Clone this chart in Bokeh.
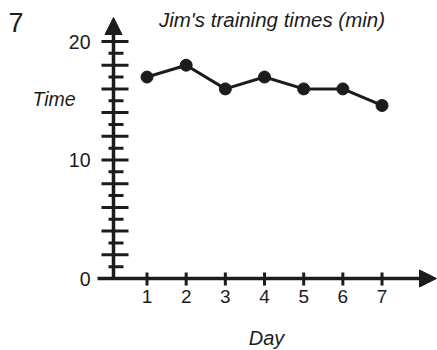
from bokeh.plotting import figure
from bokeh.models import Range1d, Label, Arrow, NormalHead
from bokeh.embed import file_html
from bokeh.resources import INLINE

# data
days = [1, 2, 3, 4, 5, 6, 7]
times = [17, 18, 16, 17, 16, 16, 14.6]
x_ticks = [1, 2, 3, 4, 5, 6, 7]
x_tick_labels = ["1", "2", "3", "4", "5", "6", "7"]
y_major = [0, 2, 4, 6, 8, 10, 12, 14, 16, 18, 20]
y_minor = [1, 3, 5, 7, 9, 11, 13, 15, 17, 19]
y_label_vals = [0, 10, 20]
y_label_text = ["0", "10", "20"]
title_text = "Jim's training times (min)"

INK = "#1c1c1c"
FONT = "Liberation Sans"

W, H = 437, 350
# scale: pixels per unit and pixel position of the origin
PX_X, ORG_X = 39.17, 107.33
PX_Y, ORG_Y = 11.85, 278.0


def dx(px):
    return (px - ORG_X) / PX_X


def dy(py):
    return (ORG_Y - py) / PX_Y


AX = dx(113)  # where the vertical axis crosses

p = figure(width=W, height=H, output_backend="svg", toolbar_location=None,
           x_range=Range1d(dx(0), dx(W)), y_range=Range1d(dy(H), dy(0)),
           min_border=0)
p.outline_line_color = None
p.axis.visible = False
p.grid.visible = False
p.background_fill_color = "white"
p.border_fill_color = "white"

# axis lines with arrow heads
p.add_layout(Arrow(x_start=AX, y_start=0, x_end=AX, y_end=dy(17), line_width=3.5,
                   line_color=INK,
                   end=NormalHead(size=17, fill_color=INK, line_color=INK)))
p.add_layout(Arrow(x_start=dx(97), y_start=0, x_end=dx(436), y_end=0, line_width=3.5,
                   line_color=INK,
                   end=NormalHead(size=17, fill_color=INK, line_color=INK)))

# y ticks
p.segment(x0=[AX - 12 / PX_X] * len(y_major), y0=y_major,
          x1=[AX + 15 / PX_X] * len(y_major), y1=y_major,
          line_width=3, line_color=INK)
p.segment(x0=[AX - 5 / PX_X] * len(y_minor), y0=y_minor,
          x1=[AX + 10 / PX_X] * len(y_minor), y1=y_minor,
          line_width=3, line_color=INK)
p.text(x=[AX - 23 / PX_X] * len(y_label_vals), y=y_label_vals, text=y_label_text,
       text_align="right", text_baseline="middle", text_font={"value": FONT},
       text_font_size="19.5px", text_color=INK)

# x ticks
p.segment(x0=x_ticks, y0=[-7 / PX_Y] * len(x_ticks),
          x1=x_ticks, y1=[6 / PX_Y] * len(x_ticks),
          line_width=3, line_color=INK)
p.text(x=x_ticks, y=[-11 / PX_Y] * len(x_ticks), text=x_tick_labels,
       text_align="center", text_baseline="top", text_font={"value": FONT},
       text_font_size="19px", text_color=INK)

# data
p.line(days, times, line_width=3, line_color=INK)
p.scatter(days, times, size=12, fill_color=INK, line_color=INK)

# texts
p.add_layout(Label(x=dx(271.5), y=dy(19), text=title_text, text_align="center",
                   text_baseline="middle", text_font=FONT,
                   text_font_style="italic", text_font_size="20.5px",
                   text_color=INK))
p.add_layout(Label(x=dx(53.5), y=dy(98), text="Time", text_align="center",
                   text_baseline="middle", text_font=FONT,
                   text_font_style="italic", text_font_size="19.5px",
                   text_color=INK))
p.add_layout(Label(x=dx(266), y=dy(337), text="Day", text_align="center",
                   text_baseline="middle", text_font=FONT,
                   text_font_style="italic", text_font_size="20px",
                   text_color=INK))
p.add_layout(Label(x=dx(8), y=dy(22), text="7", text_align="left",
                   text_baseline="middle", text_font=FONT,
                   text_font_size="27px", text_color=INK))

open("out.html", "w").write(file_html(p, INLINE))
